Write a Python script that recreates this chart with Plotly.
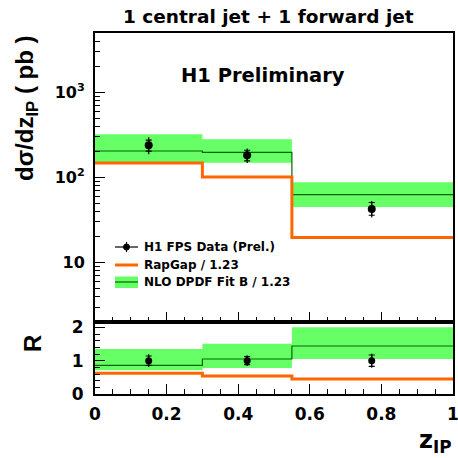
import math
import plotly.graph_objects as go

# ---------------- data ----------------
bin_edges = [0.0, 0.30, 0.55, 1.0]
z_centers = [0.15, 0.425, 0.773]

data_xs = [240, 183, 42.5]
data_stat_up = [35, 26, 8.3]
data_stat_dn = [36, 26, 6.5]
data_tot_up = [58, 36, 10.5]
data_tot_dn = [52, 34.5, 8.6]

nlo_xs = [205, 197, 63]
nlo_hi = [323, 282, 88]
nlo_lo = [150, 149, 45]

rapgap_xs = [148, 101.6, 19.7]

ratio_data = [1.0, 1.0, 1.0]
ratio_stat = [0.14, 0.12, 0.17]
ratio_tot = [0.19, 0.16, 0.21]
ratio_nlo = [0.86, 1.05, 1.44]
ratio_nlo_hi = [1.35, 1.51, 2.0]
ratio_nlo_lo = [0.71, 0.78, 1.05]
ratio_rapgap = [0.62, 0.54, 0.45]

top_tick_vals = [10, 100, 1000]
top_tick_text = ["10", "10<sup>2</sup>", "10<sup>3</sup>"]
ratio_tick_vals = [0, 1, 2]
x_tick_vals = [0, 0.2, 0.4, 0.6, 0.8, 1.0]
x_tick_text = ["0", "0.2", "0.4", "0.6", "0.8", "1"]

# ---------------- style ----------------
GREEN_BAND = "rgb(102,255,102)"
GREEN_LINE = "rgb(0,102,0)"
ORANGE = "rgb(255,102,0)"
FONT = "DejaVu Sans"
FONT2 = "Liberation Sans"

W, H = 458, 458
ML, MR, MT, MB = 95, 5, 33, 64
PW = W - ML - MR
PH = H - MT - MB


def px(x):
    return (x - ML) / PW


def py(y):
    return (H - MB - y) / PH


def band_polygon(edges, lo, hi):
    xs, ys = [], []
    for i in range(len(lo)):
        xs += [edges[i], edges[i + 1], edges[i + 1], edges[i], edges[i], None]
        ys += [lo[i], lo[i], hi[i], hi[i], lo[i], None]
    return xs, ys


def steps(vals):
    return list(bin_edges), list(vals) + [vals[-1]]


fig = go.Figure()

# ---- top panel ----
bx, by = band_polygon(bin_edges, nlo_lo, nlo_hi)
fig.add_trace(go.Scatter(x=bx, y=by, fill="toself", fillcolor=GREEN_BAND,
                         line=dict(width=0), mode="lines", xaxis="x", yaxis="y",
                         hoverinfo="skip"))
sx, sy = steps(nlo_xs)
fig.add_trace(go.Scatter(x=sx, y=sy, mode="lines", line_shape="hv",
                         line=dict(color=GREEN_LINE, width=1.2), xaxis="x", yaxis="y"))
sx, sy = steps(rapgap_xs)
fig.add_trace(go.Scatter(x=sx, y=sy, mode="lines", line_shape="hv",
                         line=dict(color=ORANGE, width=3), xaxis="x", yaxis="y"))
fig.add_trace(go.Scatter(x=z_centers, y=data_xs, mode="markers",
                         marker=dict(size=8, color="black"),
                         error_y=dict(type="data", symmetric=False, array=data_tot_up,
                                      arrayminus=data_tot_dn, thickness=1.2, width=0,
                                      color="black"),
                         xaxis="x", yaxis="y"))
fig.add_trace(go.Scatter(x=z_centers, y=data_xs, mode="markers",
                         marker=dict(size=1, color="black"),
                         error_y=dict(type="data", symmetric=False, array=data_stat_up,
                                      arrayminus=data_stat_dn, thickness=1.2, width=3,
                                      color="black"),
                         xaxis="x", yaxis="y"))

# ---- ratio panel ----
bx, by = band_polygon(bin_edges, ratio_nlo_lo, ratio_nlo_hi)
fig.add_trace(go.Scatter(x=bx, y=by, fill="toself", fillcolor=GREEN_BAND,
                         line=dict(width=0), mode="lines", xaxis="x2", yaxis="y2",
                         hoverinfo="skip"))
sx, sy = steps(ratio_nlo)
fig.add_trace(go.Scatter(x=sx, y=sy, mode="lines", line_shape="hv",
                         line=dict(color=GREEN_LINE, width=1.2), xaxis="x2", yaxis="y2"))
sx, sy = steps(ratio_rapgap)
fig.add_trace(go.Scatter(x=sx, y=sy, mode="lines", line_shape="hv",
                         line=dict(color=ORANGE, width=3), xaxis="x2", yaxis="y2"))
fig.add_trace(go.Scatter(x=z_centers, y=ratio_data, mode="markers",
                         marker=dict(size=7, color="black"),
                         error_y=dict(type="data", array=ratio_tot, thickness=1.2,
                                      width=0, color="black"),
                         xaxis="x2", yaxis="y2"))
fig.add_trace(go.Scatter(x=z_centers, y=ratio_data, mode="markers",
                         marker=dict(size=1, color="black"),
                         error_y=dict(type="data", array=ratio_stat, thickness=1.2,
                                      width=3, color="black"),
                         xaxis="x2", yaxis="y2"))

split = 72 / PH

common_x = dict(range=[0, 1], showgrid=False, zeroline=False, showline=True,
                linewidth=2, linecolor="black", mirror=True, ticks="inside",
                ticklen=10, tickwidth=1, tickcolor="black", automargin=False,
                tickvals=x_tick_vals, ticktext=x_tick_text,
                ticklabeloverflow="allow",
                minor=dict(ticks="inside", ticklen=5, dtick=0.05, tick0=0,
                           tickcolor="black", tickwidth=1, showgrid=False))

minor_log = [m * 10 ** d for d in range(0, 4) for m in range(2, 10)
             if 2 <= m * 10 ** d <= 5000]

fig.update_layout(
    template="none",
    width=W, height=H,
    margin=dict(l=ML, r=MR, t=MT, b=MB, pad=0),
    paper_bgcolor="white", plot_bgcolor="white",
    showlegend=False,
    xaxis=dict(domain=[0, 1], anchor="y", showticklabels=False, **common_x),
    xaxis2=dict(domain=[0, 1], anchor="y2", matches="x", showticklabels=True,
                tickfont=dict(family=FONT, size=17, color="black", weight="bold"),
                ticklabelstandoff=4, **common_x),
    yaxis=dict(domain=[split, 1], anchor="x", type="log", automargin=False,
               range=[math.log10(2), math.log10(5000)],
               showgrid=False, zeroline=False, showline=True, linewidth=2,
               linecolor="black", mirror=True, ticks="inside", ticklen=10,
               tickwidth=1, tickcolor="black",
               tickvals=top_tick_vals, ticktext=top_tick_text,
               tickfont=dict(family=FONT, size=16, color="black", weight="bold"),
               ticklabelstandoff=5, ticklabeloverflow="allow",
               minor=dict(ticks="inside", ticklen=5, tickmode="array",
                          tickvals=minor_log, tickcolor="black", tickwidth=1,
                          showgrid=False)),
    yaxis2=dict(domain=[0, split], anchor="x2", range=[0, 2.16], automargin=False,
                showgrid=False, zeroline=False, showline=True, linewidth=2,
                linecolor="black", mirror=True, ticks="inside", ticklen=10,
                tickwidth=1, tickcolor="black", tickvals=ratio_tick_vals,
                tickfont=dict(family=FONT, size=17, color="black", weight="bold"),
                ticklabelstandoff=6, ticklabeloverflow="allow",
                minor=dict(ticks="inside", ticklen=5, dtick=0.2, tick0=0,
                           tickcolor="black", tickwidth=1, showgrid=False)),
)

ann = []
ann.append(dict(text="<b>1 central jet + 1 forward jet</b>", x=px(268.5), y=py(16),
                xref="paper", yref="paper", showarrow=False,
                font=dict(family=FONT, size=18.5, color="black"),
                xanchor="center", yanchor="middle"))
ann.append(dict(text="<b>H1 Preliminary</b>", x=px(263), y=py(75),
                xref="paper", yref="paper", showarrow=False,
                font=dict(family=FONT, size=19.5, color="black"),
                xanchor="center", yanchor="middle"))
ann.append(dict(text="<b>d\u03c3/dz<sub>IP</sub> ( pb )</b>", x=px(26), y=py(108),
                xref="paper", yref="paper", showarrow=False, textangle=-90,
                font=dict(family=FONT2, size=24, color="black"),
                xanchor="center", yanchor="middle"))
ann.append(dict(text="<b>R</b>", x=px(32), y=py(344),
                xref="paper", yref="paper", showarrow=False, textangle=-90,
                font=dict(family=FONT2, size=24, color="black"),
                xanchor="center", yanchor="middle"))
ann.append(dict(text="<b>z<sub>IP</sub></b>", x=px(454), y=py(441),
                xref="paper", yref="paper", showarrow=False,
                font=dict(family=FONT, size=24, color="black"),
                xanchor="right", yanchor="middle"))

legend_rows = [247, 265, 282]
legend_labels = ["H1 FPS Data (Prel.)", "RapGap / 1.23", "NLO DPDF Fit B / 1.23"]
for yy, lab in zip(legend_rows, legend_labels):
    ann.append(dict(text="<b>" + lab + "</b>", x=px(142), y=py(yy),
                    xref="paper", yref="paper", showarrow=False,
                    font=dict(family=FONT, size=12, color="black"),
                    xanchor="left", yanchor="middle"))
fig.update_layout(annotations=ann)

shapes = []
# data entry
shapes.append(dict(type="line", xref="paper", yref="paper", x0=px(115), x1=px(138),
                   y0=py(247), y1=py(247), line=dict(color="black", width=1.2)))
shapes.append(dict(type="line", xref="paper", yref="paper", x0=px(126.5), x1=px(126.5),
                   y0=py(242), y1=py(252), line=dict(color="black", width=1.2)))
shapes.append(dict(type="circle", xref="paper", yref="paper", x0=px(123.5), x1=px(129.5),
                   y0=py(244), y1=py(250), fillcolor="black", line=dict(color="black", width=1)))
# rapgap entry
shapes.append(dict(type="line", xref="paper", yref="paper", x0=px(115), x1=px(138),
                   y0=py(265), y1=py(265), line=dict(color=ORANGE, width=3)))
# nlo entry
shapes.append(dict(type="rect", xref="paper", yref="paper", x0=px(115), x1=px(138),
                   y0=py(276.5), y1=py(288), fillcolor=GREEN_BAND, line=dict(width=0)))
shapes.append(dict(type="line", xref="paper", yref="paper", x0=px(115), x1=px(138),
                   y0=py(282), y1=py(282), line=dict(color=GREEN_LINE, width=1.2)))
fig.update_layout(shapes=shapes)

fig.write_html("out.html",
               config={"displayModeBar": False},
               post_script="document.body.style.margin='0px';"
                           "document.body.style.padding='0px';"
                           "document.body.style.overflow='hidden';")
